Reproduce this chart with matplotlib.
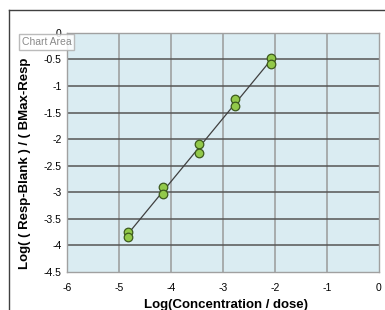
import matplotlib
matplotlib.use("Agg")
import matplotlib.pyplot as plt
import numpy as np

plt.rcParams['font.family'] = ['Liberation Sans', 'DejaVu Sans']

# replicate points
log_conc = [-4.83, -4.83, -4.15, -4.15, -3.46, -3.46, -2.77, -2.77, -2.08, -2.08]
log_resp = [-3.74, -3.84, -2.91, -3.03, -2.10, -2.27, -1.25, -1.37, -0.47, -0.58]

x_ticks = [-6, -5, -4, -3, -2, -1, 0]
y_ticks = [0, -0.5, -1, -1.5, -2, -2.5, -3, -3.5, -4, -4.5]

x = np.array(log_conc)
y = np.array(log_resp)
slope, intercept = np.polyfit(x, y, 1)

fig = plt.figure(figsize=(3.85, 3.10), dpi=100)
ax = fig.add_axes([0.174, 0.123, 0.81, 0.771])
ax.set_facecolor("#daecf2")

ax.set_xlim(-6, 0)
ax.set_ylim(-4.5, 0)
ax.set_xticks(x_ticks)
ax.set_yticks(y_ticks)
ax.set_xticklabels([str(t) for t in x_ticks], fontsize=7.5)
ax.set_yticklabels([f"{t:g}" for t in y_ticks], fontsize=7.5)
ax.tick_params(length=0)
ax.tick_params(axis="x", pad=8)
ax.tick_params(axis="y", pad=4)

for t in x_ticks[1:-1]:
    ax.axvline(t, color="#9a9a9a", lw=1.1, zorder=1)
for t in y_ticks[1:-1]:
    ax.axhline(t, color="#555555", lw=1.1, zorder=1)
for s in ax.spines.values():
    s.set_color("#a0a0a0")
    s.set_linewidth(1.0)

xl = np.array([x.min(), x.max()])
ax.plot(xl, slope * xl + intercept, color="#404040", lw=0.9, zorder=2)
ax.scatter(x, y, s=38, facecolor="#92c94a", edgecolor="#3d5a1e", linewidth=0.9, zorder=3)

# axis titles (cut off by the chart area edges, as in the original)
fig.text(226 / 385, 1 - 299 / 310, "Log(Concentration / dose)", fontsize=9.5,
         fontweight="bold", ha="center", va="top")
fig.text(25 / 385, 1 - 163 / 310, "Log( ( Resp-Blank ) / ( BMax-Resp", rotation=90,
         fontsize=9.5, fontweight="bold", ha="center", va="center")

# outer chart area frame
fig.add_artist(plt.Line2D([9 / 385, 1], [1 - 10 / 310, 1 - 10 / 310], color="#404040", lw=1.0))
fig.add_artist(plt.Line2D([9 / 385, 9 / 385], [0, 1 - 10 / 310], color="#404040", lw=1.0))

# "Chart Area" tooltip
fig.text(22 / 385, 1 - 42 / 310, "Chart Area", fontsize=7.5, color="#8a8a8a", va="center",
         bbox=dict(boxstyle="square,pad=0.25", facecolor="white", edgecolor="#b0b0b0", alpha=0.85))

fig.savefig("out.png", dpi=100)
